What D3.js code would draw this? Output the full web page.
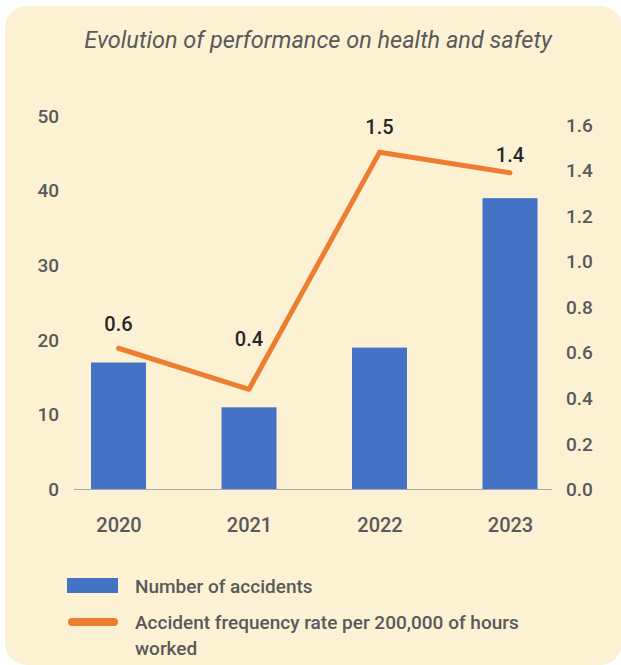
<!DOCTYPE html>
<html>
<head>
<meta charset="utf-8">
<script src="https://cdn.jsdelivr.net/npm/d3@7"></script>
<style>
  html, body { margin: 0; padding: 0; background: #ffffff; }
  svg { display: block; }
  text { font-family: Roboto, "Noto Sans", sans-serif; }
</style>
</head>
<body>
<svg id="chart" width="621" height="665"></svg>
<script>
const years = ["2020", "2021", "2022", "2023"];
const accidents = [17, 11, 19, 39];
const frequencyRate = [0.62, 0.44, 1.48, 1.39];
const leftTicks = [0, 10, 20, 30, 40, 50];
const rightTicks = [0, 0.2, 0.4, 0.6, 0.8, 1.0, 1.2, 1.4, 1.6];
const titleText = "Evolution of performance on health and safety";
const legendBar = "Number of accidents";
const legendLineLines = ["Accident frequency rate per 200,000 of hours", "worked"];

const svg = d3.select("#chart");
const BG = "#FCF2D3", BLUE = "#4472C4", ORANGE = "#ED7D31", GREY = "#595959", DARK = "#262626";

// panel
svg.append("rect").attr("x", 5).attr("y", 6).attr("width", 617).attr("height", 659)
  .attr("rx", 22).attr("fill", BG);

svg.append("text").attr("x", 318).attr("y", 40).attr("text-anchor", "middle")
  .attr("dominant-baseline", "central").attr("font-size", 23.5).attr("font-style", "italic")
  .attr("fill", GREY).text(titleText);

const x = d3.scalePoint().domain(years).range([118.5, 510]);
const yL = d3.scaleLinear().domain([0, 50]).range([489.5, 116]);
const yR = d3.scaleLinear().domain([0, 1.6]).range([489.5, 125]);
const barW = 55;

// left axis
const gL = svg.append("g").attr("transform", "translate(59,0)")
  .call(d3.axisLeft(yL).tickValues(leftTicks).tickSize(0).tickPadding(0));
gL.select(".domain").remove();
gL.selectAll("text").attr("font-size", 19).attr("fill", GREY).attr("font-weight", 500)
  .attr("font-family", "Roboto");

// right axis
const gR = svg.append("g").attr("transform", "translate(566,0)")
  .call(d3.axisRight(yR).tickValues(rightTicks).tickFormat(d3.format(".1f")).tickSize(0).tickPadding(0));
gR.select(".domain").remove();
gR.selectAll("text").attr("font-size", 19).attr("fill", GREY).attr("font-weight", 500)
  .attr("font-family", "Roboto");

// bars
svg.append("g").selectAll("rect").data(years).join("rect")
  .attr("x", d => x(d) - barW / 2).attr("width", barW)
  .attr("y", (d, i) => yL(accidents[i])).attr("height", (d, i) => yL(0) - yL(accidents[i]))
  .attr("fill", BLUE);

// baseline
svg.append("line").attr("x1", 74).attr("x2", 552).attr("y1", yL(0)).attr("y2", yL(0))
  .attr("stroke", "#A6A6A6").attr("stroke-width", 1.2);

// x labels
const gX = svg.append("g").attr("transform", `translate(0,${yL(0)})`)
  .call(d3.axisBottom(x).tickSize(0).tickPadding(0));
gX.select(".domain").remove();
gX.selectAll("text").attr("dy", null).attr("y", 35).attr("dominant-baseline", "central")
  .attr("font-size", 20).attr("fill", GREY).attr("font-weight", 500).attr("font-family", "Roboto");

// line
const pts = years.map((d, i) => [x(d), yR(frequencyRate[i])]);
svg.append("path").attr("d", d3.line()(pts)).attr("fill", "none").attr("stroke", ORANGE)
  .attr("stroke-width", 5).attr("stroke-linecap", "round").attr("stroke-linejoin", "round");

// data labels
const labelDy = [-24, -50, -25, -18];
svg.append("g").selectAll("text").data(years).join("text")
  .attr("x", (d, i) => x(d)).attr("y", (d, i) => yR(frequencyRate[i]) + labelDy[i])
  .attr("text-anchor", "middle").attr("dominant-baseline", "central")
  .attr("font-size", 20).attr("font-weight", 500).attr("fill", DARK)
  .text((d, i) => d3.format(".1f")(frequencyRate[i]));

// legend
svg.append("rect").attr("x", 67).attr("y", 578).attr("width", 51).attr("height", 15).attr("fill", BLUE);
svg.append("text").attr("x", 135).attr("y", 586).attr("dominant-baseline", "central")
  .attr("font-size", 19).attr("font-weight", 500).attr("fill", GREY).text(legendBar);
svg.append("line").attr("x1", 72).attr("x2", 114).attr("y1", 622).attr("y2", 622)
  .attr("stroke", ORANGE).attr("stroke-width", 8).attr("stroke-linecap", "round");
legendLineLines.forEach((t, i) => {
  svg.append("text").attr("x", 135).attr("y", 622 + i * 26).attr("dominant-baseline", "central")
    .attr("font-size", 19).attr("font-weight", 500).attr("fill", GREY).text(t);
});
</script>
</body>
</html>
